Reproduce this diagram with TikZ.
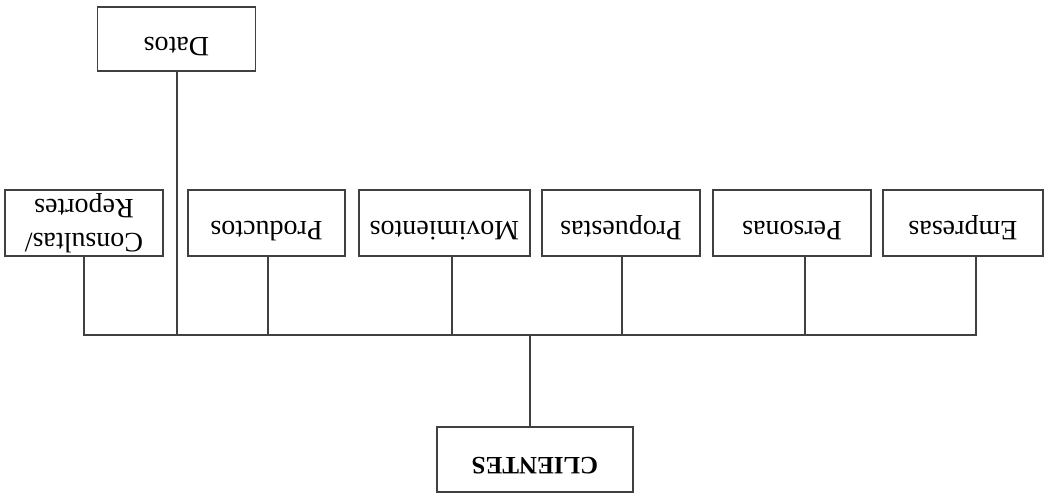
\documentclass[tikz,border=0pt]{standalone}
\usepackage{fontspec}
\setmainfont{Liberation Serif}
\usetikzlibrary{positioning}

\begin{document}
\begin{tikzpicture}[
    x=0.5pt, y=-0.5pt,
    box/.style={rectangle,draw=black!75,line width=0.75pt,minimum height=33pt,minimum width=79pt,inner sep=1pt,font=\fontsize{14}{17}\selectfont,align=center,rotate=180},
    oneline/.style={text height=10pt,text depth=8pt},
    wire/.style={draw=black!75,line width=0.75pt}
  ]
  \useasboundingbox (0,0) rectangle (1050,495);
  % cajas (todo el dibujo esta girado 180 grados)
  \node[box,oneline,minimum height=32pt] (datos) at (176.5,39) {Datos};
  \node[box] (consultas) at (84,223) {Consultas/\\Reportes};
  \node[box,oneline,minimum width=78.5pt] (productos) at (266.5,223) {Productos};
  \node[box,oneline,minimum width=85.5pt] (movimientos) at (444.5,223) {Movimientos};
  \node[box,oneline] (propuestas) at (621,223) {Propuestas};
  \node[box,oneline] (personas) at (792,223) {Personas};
  \node[box,oneline,minimum width=80pt] (empresas) at (963,223) {Empresas};
  \node[box,oneline,minimum width=98pt,minimum height=32.5pt,font=\fontsize{12.5}{14}\selectfont\bfseries] (clientes) at (535,459.5) {CLIENTES};
  % barra horizontal
  \coordinate (busL) at (84,335);
  \coordinate (busR) at (976,335);
  \coordinate (bDat) at (177,335);
  \coordinate (bPro) at (268,335);
  \coordinate (bMov) at (452,335);
  \coordinate (bCli) at (530,335);
  \coordinate (bPrp) at (622,335);
  \coordinate (bPer) at (805,335);
  \draw[wire] (consultas.north) -- (busL) -- (busR) -- (busR |- empresas.north);
  \draw[wire] (bDat |- datos.north) -- (bDat);
  \draw[wire] (bPro |- productos.north) -- (bPro);
  \draw[wire] (bMov |- movimientos.north) -- (bMov);
  \draw[wire] (bPrp |- propuestas.north) -- (bPrp);
  \draw[wire] (bPer |- personas.north) -- (bPer);
  \draw[wire] (bCli) -- (bCli |- clientes.south);
\end{tikzpicture}
\end{document}
